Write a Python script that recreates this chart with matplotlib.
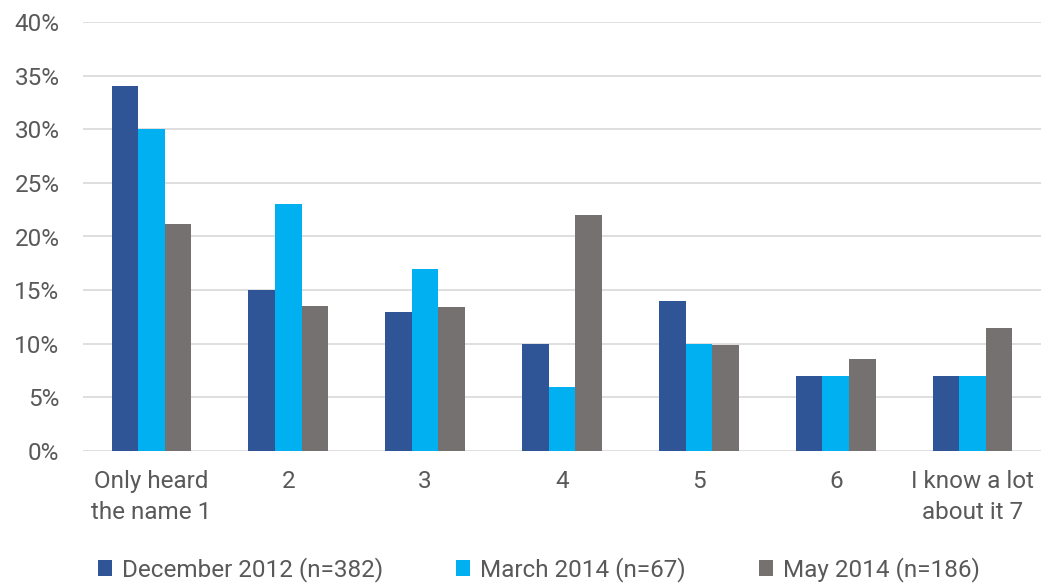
import matplotlib.pyplot as plt
import numpy as np
from matplotlib.ticker import PercentFormatter

categories = ['Only heard\nthe name 1', '2', '3', '4', '5', '6', 'I know a lot\nabout it 7']
series_names = ['December 2012 (n=382)', 'March 2014 (n=67)', 'May 2014 (n=186)']
dec_2012 = [34, 15, 13, 10, 14, 7, 7]
mar_2014 = [30, 23, 17, 6, 10, 7, 7]
may_2014 = [21.2, 13.5, 13.4, 22, 9.9, 8.6, 11.5]

colors = ['#2F5597', '#00B0F0', '#767171']
text_color = '#595959'

plt.rcParams['font.family'] = ['Roboto', 'DejaVu Sans']

fig = plt.figure(figsize=(10.42, 5.83), dpi=100)
ax = fig.add_axes([83 / 1042, 132 / 583, 958 / 1042, 429 / 583])

x = np.arange(len(categories))
width = 0.194
for i, (vals, name) in enumerate(zip([dec_2012, mar_2014, may_2014], series_names)):
    ax.bar(x + (i - 1) * width, vals, width, color=colors[i], label=name, zorder=3)

ax.set_xlim(-0.5, len(categories) - 0.5)
ax.set_ylim(0, 40)
ax.set_yticks(range(0, 41, 5))
ax.yaxis.set_major_formatter(PercentFormatter(decimals=0))
ax.set_xticks(x)
ax.set_xticklabels(categories, linespacing=1.4)
ax.tick_params(axis='both', length=0, labelsize=17.5, labelcolor=text_color)
ax.tick_params(axis='x', pad=14)
ax.tick_params(axis='y', pad=17)
ax.grid(axis='y', color='#D9D9D9', linewidth=1.2, zorder=0)
for side in ['top', 'right', 'left', 'bottom']:
    ax.spines[side].set_visible(False)

fig.legend(loc='center', bbox_to_anchor=(0.517, 0.023), ncol=3, frameon=False,
           fontsize=17.5, labelcolor=text_color, handlelength=0.6, handleheight=0.6,
           handletextpad=0.4, columnspacing=3.0)

fig.savefig('out.png', dpi=100, facecolor='white')
